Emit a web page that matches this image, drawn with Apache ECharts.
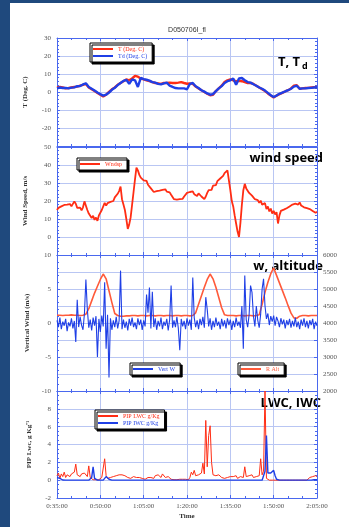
<!DOCTYPE html>
<html><head><meta charset="utf-8">
<script src="https://cdn.jsdelivr.net/npm/echarts@6/dist/echarts.min.js"></script>
<style>
html,body{margin:0;padding:0;background:#fff;width:349px;height:527px;overflow:hidden}
#leftbar{position:absolute;left:0;top:0;width:10px;height:100%;background:#1f497d}
#topbar{position:absolute;left:0;top:0;width:100%;height:3px;background:#1f497d}
#chart{position:absolute;left:10px;top:3px;width:339px;height:524px;background:#fff}
</style></head><body><div id="leftbar"></div><div id="topbar"></div><div id="chart"></div>
<script>
// ---- data (time = minutes elapsed since 0:35:00) ----
const xTickLabels = ['0:35:00','0:50:00','1:05:00','1:20:00','1:35:00','1:50:00','2:05:00'];
const coarseStep = 1;   // minutes between samples for T, Td, R Alt
const fineStep = 0.5;   // minutes between samples for wind, W, LWC, IWC

const tempC = [2.5,2.8,2.5,2.0,2.2,2.5,2.8,3.0,3.5,4.0,
4.5,2.5,1.5,0.5,-0.5,-1.5,-2.5,-1.5,0.0,1.5,
2.5,4.0,5.0,6.0,7.0,6.5,7.5,9.0,8.5,7.5,
7.0,6.5,6.0,5.5,5.0,4.8,4.5,5.0,5.0,5.2,
5.0,5.0,5.2,5.5,5.0,4.6,4.8,4.5,3.0,2.0,
1.0,0.0,-1.0,-1.8,-1.5,0.5,2.0,3.5,5.5,6.5,
7.0,6.5,6.0,6.2,6.0,5.5,5.0,5.0,4.5,3.5,
2.5,1.5,0.5,-0.8,-2.0,-3.0,-2.0,-1.2,-0.5,0.3,
1.0,2.0,3.5,3.8,1.8,2.0,2.2,2.3,2.5,2.7,
2.8];

const dewC = [2.0,2.5,2.2,2.3,2.0,2.4,2.6,3.2,3.3,4.2,
4.8,2.8,1.8,0.8,-0.3,-1.2,-2.0,-1.5,-0.3,1.2,
2.3,3.8,5.0,6.2,6.8,4.5,7.0,6.5,2.8,7.8,
7.2,6.8,6.3,5.5,5.2,4.5,4.2,4.8,5.2,3.5,
2.8,2.2,2.0,2.0,2.0,1.5,4.5,5.0,3.2,2.2,
1.0,0.2,-0.8,-1.5,-1.2,0.5,2.0,3.3,5.0,6.0,
6.5,7.5,4.0,7.5,7.8,6.5,5.5,5.2,4.3,3.5,
2.5,1.8,0.8,-0.5,-1.8,-2.8,-2.0,-1.0,-0.3,0.3,
1.0,1.8,3.0,3.5,1.8,2.0,2.0,2.2,2.3,2.5,
2.6];

const windSpeed = [
15.0,16.2,15.5,17.0,16.4,17.8,16.9,18.0,17.2,18.3,
17.0,16.5,19.8,18.5,16.2,15.5,16.3,14.8,16.5,19.8,
19.0,15.0,13.0,12.2,10.5,11.8,9.5,10.8,9.0,12.0,
12.8,15.0,14.2,19.0,17.5,18.8,18.0,19.5,20.5,20.0,
22.0,21.5,24.0,25.5,28.0,21.0,18.0,15.0,10.0,4.5,
7.0,11.0,18.0,25.0,32.0,38.5,37.0,34.5,33.0,33.8,
31.5,30.8,31.2,29.0,28.2,27.0,26.0,25.0,24.2,25.5,
24.5,25.8,24.8,26.2,25.5,26.5,25.2,26.0,24.8,23.5,
22.5,21.0,21.8,20.8,21.5,21.0,22.0,21.2,22.5,23.0,
24.5,23.5,25.0,24.2,25.3,23.8,24.5,22.8,24.2,23.5,
22.5,22.0,21.0,22.5,24.5,26.0,27.0,26.2,28.5,29.5,
28.8,31.0,30.5,32.5,31.8,34.0,35.5,36.2,37.0,37.2,
26.0,20.0,17.0,12.0,7.5,3.0,0.0,8.0,18.0,26.0,
29.5,27.0,26.0,24.5,25.5,23.0,22.5,21.0,22.0,20.5,
19.0,20.2,18.0,17.5,18.8,15.5,17.0,14.2,15.8,13.0,
14.5,12.5,13.8,7.5,12.0,14.5,13.5,15.2,14.8,16.0,
15.5,17.0,16.2,18.0,17.2,18.5,19.5,18.0,19.2,17.5,
18.0,16.5,17.5,16.0,16.8,15.5,16.2,14.5,15.0,13.5,
14.0];

const vertW = [
0.4,-0.6,0.8,-0.9,0.2,-0.4,0.6,-1.2,0.1,-0.5,
0.7,-0.8,0.3,-2.8,3.4,-0.6,0.9,-0.3,-1.0,1.4,
6.4,2.0,-0.7,0.5,-1.1,0.8,-0.4,1.0,-5.0,0.6,
-1.3,1.1,-0.5,6.0,-3.8,1.2,-8.0,0.7,-1.0,0.4,
-0.6,0.9,-0.8,0.3,7.7,-0.9,0.5,-0.7,0.2,-1.1,
0.6,-0.4,0.8,-0.6,0.1,-0.9,0.7,-0.3,0.5,-1.0,
0.4,-0.5,4.2,1.5,5.2,-0.8,4.6,-0.6,0.7,-1.0,
0.3,-0.5,0.8,-0.9,0.2,-0.4,0.6,-1.1,0.5,5.5,
-0.7,0.4,-0.6,0.9,-0.8,-4.0,0.6,-0.5,0.3,-0.9,
0.7,-0.4,0.5,-1.0,6.7,0.8,-0.6,0.4,-0.9,0.6,
-0.3,0.9,-0.7,3.8,2.0,-0.5,0.7,-1.0,0.3,-0.6,
0.8,-0.4,0.2,-0.9,0.6,-0.5,0.4,-0.8,0.7,-0.3,
0.5,-1.0,0.3,-0.6,0.8,-0.4,0.2,-0.7,2.5,-3.8,
7.0,0.5,-0.6,1.2,5.5,4.5,1.0,-0.5,2.5,0.4,
-0.7,1.3,5.0,6.5,2.5,0.6,1.4,-0.3,1.0,0.2,
1.1,-0.4,0.9,0.3,-0.6,0.7,-0.2,0.5,-0.8,0.4,
-0.3,0.6,-0.7,0.3,-0.5,0.8,-0.6,0.2,-0.9,0.5,
-0.4,0.7,-0.6,0.3,-0.8,0.4,-0.3,0.6,-0.9,0.2,
-0.4];

const radarAlt = [
4230,4230,4220,4230,4230,4240,4230,4230,4220,4230,
4260,4420,4650,4880,5080,5280,5440,5300,4950,4600,
4280,4220,4200,4200,4210,4210,4220,4220,4210,4220,
4220,4210,4220,4220,4210,4220,4220,4210,4220,4220,
4210,4220,4220,4210,4220,4220,4210,4220,4300,4550,
4800,5050,5280,5440,5300,5050,4750,4450,4240,4220,
4220,4220,4210,4220,4220,4210,4220,4220,4210,4220,
4240,4550,4900,5200,5450,5620,5400,5180,4960,4740,
4510,4290,4150,4140,4200,4220,4220,4210,4220,4220,
4220];

const lwc = [
0.5,0.8,0.2,0.7,0.4,0.9,0.3,0.6,0.8,0.4,
0.7,0.5,0.9,1.8,0.6,0.8,0.4,0.7,0.5,0.8,
0.6,0.4,1.6,0.3,0.1,0.05,0.1,0.05,0.1,0.05,
0.1,0.3,0.2,2.4,0.5,0.2,0.4,0.3,0.5,0.4,
0.6,0.5,0.4,0.6,0.8,0.6,0.7,0.5,0.4,0.3,
0.4,0.2,0.3,0.4,0.2,0.3,0.1,0.3,0.4,0.2,
0.3,0.1,0.2,0.3,0.1,0.3,0.4,0.2,0.5,0.3,
0.6,0.4,0.3,0.7,0.5,0.3,0.2,0.4,0.3,0.1,
0.1,0.05,0.1,0.05,0.05,0.1,0.05,0.1,0.05,0.1,
0.2,0.05,0.3,0.9,0.6,1.1,0.5,0.7,0.6,0.4,
0.8,1.9,0.7,6.7,1.5,5.0,6.1,2.0,0.6,0.4,
0.5,0.3,0.6,0.4,0.3,0.5,0.2,0.4,0.3,0.5,
0.4,0.2,0.4,0.3,0.5,0.2,0.3,0.4,0.6,0.3,
1.5,0.4,0.3,0.5,0.4,0.6,0.3,0.5,0.4,0.6,
0.5,2.4,0.6,1.0,10.0,0.2,0.05,0,0,0,
0,0,0,0,0,0,0,0,0,0,
0,0,0,0,0,0,0,0,0,0,
0,0,0,0,0.1,0.3,0.2,0.4,0.3,0.5,
0.4];

const iwc = [
0.3,0.5,0.2,0.1,0.02,0,0,0,0,0,
0,0,0,0,0,0,0,0,0,0,
0,0,0,0,0.3,1.5,0.2,0,0,0,
0,0,0,0.1,0.4,0.3,0.1,0,0,0,
0,0,0,0,0,0,0,0,0,0,
0,0,0,0,0,0,0,0,0,0,
0,0,0,0,0,0,0,0,0,0,
0,0,0,0,0,0,0,0,0,0,
0,0,0,0,0,0,0,0,0,0,
0,0,0,0,0,0,0,0,0,0,
0,0,0,0,0,0,0,0,0,0,
0,0,0,0,0,0,0,0,0,0,
0,0,0,0,0,0,0,0,0,0,
0,0,0,0,0,0,0,0,0,0,
0,0,0,0,1.0,5.0,0.8,0.6,0.8,1.0,
1.1,0.5,0.1,0,0,0,0,0,0,0,
0,0,0,0,0,0,0,0,0,0,
0,0,0,0,0,0,0,0,0.05,0.1,
0.05];

// ---- chart ----
const pairs = (vals, step) => vals.map((v, i) => [i * step, v]);
const AX = '#4a68ee', GRIDC = '#b9c6f3', RED = '#ff2d14', BLUE = '#1f3fe6', ALT = '#ff5a3a';
const SERIF = 'Liberation Serif';
const grids = [
  {left:47, right:32, top:35, height:108},
  {left:47, right:32, top:144, height:108},
  {left:47, right:32, top:252, height:136},
  {left:47, right:32, top:388, height:107}
];
const tick = {show:true, inside:true, length:3, lineStyle:{color:AX, width:1}};
const line = {show:true, onZero:false, lineStyle:{color:AX, width:1}};
const xAxis = [];
grids.forEach((g, i) => {
  xAxis.push({type:'value', gridIndex:i, min:0, max:90, interval:15, position:'bottom',
    axisLine:line, axisTick:tick,
    minorTick:{show:true, splitNumber:3, length:2, lineStyle:{color:AX}},
    splitLine:{show:true, lineStyle:{color:GRIDC, width:1}},
    axisLabel:{show:i===3, margin:5, fontFamily:SERIF, fontSize:7, color:'#555',
      formatter:(v) => xTickLabels[Math.round(v/15)]},
    name: i===3 ? 'Time' : '', nameLocation:'middle', nameGap:15,
    nameTextStyle:{fontFamily:SERIF, fontSize:7, fontWeight:'bold', color:'#333'}});
  xAxis.push({type:'value', gridIndex:i, min:0, max:90, interval:15, position:'top',
    axisLine:line, axisTick:tick,
    minorTick:{show:true, splitNumber:3, length:2, lineStyle:{color:AX}},
    splitLine:{show:false}, axisLabel:{show:false}});
});
const ylab = {fontFamily:SERIF, fontSize:7, color:'#555', margin:6, formatter:(v) => String(v)};
const yname = {fontFamily:SERIF, fontSize:7, fontWeight:'bold', color:'#333'};
function yPair(i, min, max, interval, minor, name, opts) {
  opts = opts || {};
  const left = {type:'value', gridIndex:i, position:'left', min, max, interval,
    axisLine:line, axisTick:tick,
    minorTick:{show:true, splitNumber:minor, length:2, lineStyle:{color:AX}},
    splitLine:{show:true, lineStyle:{color:GRIDC, width:1}},
    axisLabel:Object.assign({showMinLabel:opts.showMin !== false, showMaxLabel:opts.showMax !== false}, ylab),
    name, nameLocation:'middle', nameGap:opts.nameGap || 28, nameTextStyle:yname};
  const right = opts.right || {type:'value', gridIndex:i, position:'right', min, max, interval,
    axisLine:line, axisTick:tick,
    minorTick:{show:true, splitNumber:minor, length:2, lineStyle:{color:AX}},
    splitLine:{show:false}, axisLabel:{show:false}};
  return [left, right];
}
const yAxis = [].concat(
  yPair(0, -30, 30, 10, 5, 'T (Deg. C)', {showMin:false}),
  yPair(1, -10, 50, 10, 5, 'Wind Speed, m/s', {showMin:false}),
  yPair(2, -10, 10, 5, 5, 'Vertical Wind (m/s)', {nameGap:26, right:{type:'value', gridIndex:2, position:'right',
    min:2000, max:6000, interval:500, axisLine:line, axisTick:tick,
    splitLine:{show:true, lineStyle:{color:GRIDC, width:1}},
    axisLabel:Object.assign({}, ylab)}}),
  yPair(3, -2, 10, 2, 4, 'PIP Lwc, g Kg⁻¹', {showMax:false, nameGap:24})
);
const ls = (name, data, xi, yi, color, width) => ({type:'line', name, data, xAxisIndex:xi, yAxisIndex:yi,
  symbol:'none', showSymbol:false, animation:false, lineStyle:{color, width}, itemStyle:{color}});
const series = [
  ls('T (Deg. C)', pairs(tempC, coarseStep), 0, 0, RED, 2.4),
  ls('Td (Deg. C)', pairs(dewC, coarseStep), 0, 0, BLUE, 2.4),
  ls('Wndsp', pairs(windSpeed, fineStep), 2, 2, RED, 1.8),
  ls('R Alt', pairs(radarAlt, coarseStep), 4, 5, ALT, 1.6),
  ls('Vert W', pairs(vertW, fineStep), 4, 4, BLUE, 1.1),
  ls('PIP LWC g/Kg', pairs(lwc, fineStep), 6, 6, RED, 1.0),
  ls('PIP IWC g/Kg', pairs(iwc, fineStep), 6, 6, BLUE, 1.4)
];
const lg = (left, top, items, orient) => ({orient:orient || 'vertical', left, top, selectedMode:false,
  backgroundColor:'#fff', borderColor:'#000', borderWidth:1, shadowColor:'#000', shadowOffsetX:2, shadowOffsetY:2, shadowBlur:0,
  padding:[3,5,3,3], itemGap:1, itemWidth:20, itemHeight:2, icon:'rect',
  textStyle:{fontFamily:SERIF, fontSize:6},
  data: items.map(([n, c]) => ({name:n, textStyle:{color:c}}))});
const legend = [
  lg(80, 40, [['T (Deg. C)', RED], ['Td (Deg. C)', BLUE]]),
  lg(67, 155, [['Wndsp', RED]]),
  lg(120, 360, [['Vert W', BLUE]]),
  lg(228, 360, [['R Alt', ALT]]),
  lg(85, 407, [['PIP LWC g/Kg', RED], ['PIP IWC g/Kg', BLUE]])
];
const big = 'bold 13px "Open Sans"';
const graphic = [
  {type:'text', x:177, y:27, style:{text:'D050706I_fl', font:'7px "Liberation Sans"', fill:'#333', align:'center', verticalAlign:'middle'}},
  {type:'text', x:268, y:59, style:{text:'T, T', font:big, fill:'#000', align:'left', verticalAlign:'middle'}},
  {type:'text', x:292, y:63, style:{text:'d', font:'bold 9px "Open Sans"', fill:'#000', align:'left', verticalAlign:'middle'}},
  {type:'text', x:313, y:155, style:{text:'wind speed', font:big, fill:'#000', align:'right', verticalAlign:'middle'}},
  {type:'text', x:313, y:263, style:{text:'w, altitude', font:big, fill:'#000', align:'right', verticalAlign:'middle'}},
  {type:'text', x:311, y:400, style:{text:'LWC, IWC', font:big, fill:'#000', align:'right', verticalAlign:'middle'}}
];
const chart = echarts.init(document.getElementById('chart'));
chart.setOption({animation:false, backgroundColor:'#fff', grid:grids, xAxis, yAxis, series, legend, graphic});
</script></body></html>
